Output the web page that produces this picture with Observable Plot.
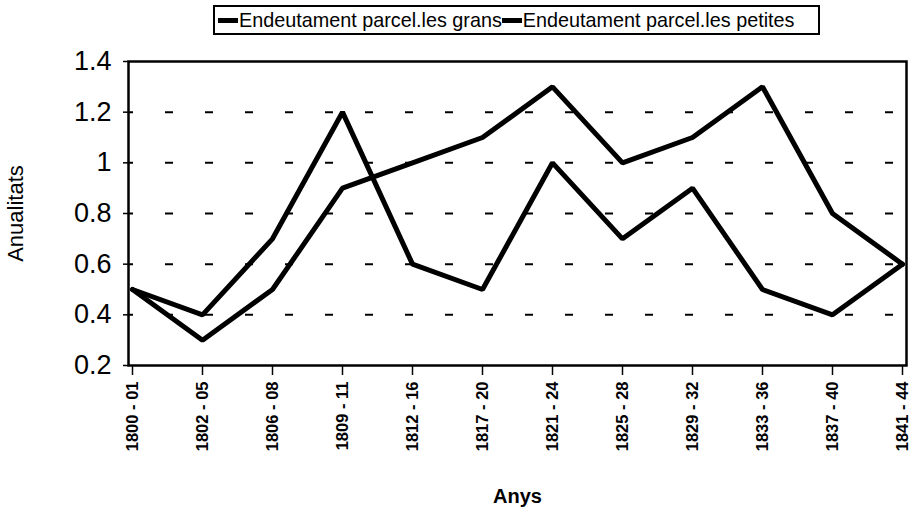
<!DOCTYPE html>
<html>
<head>
<meta charset="utf-8">
<script src="https://cdn.jsdelivr.net/npm/d3@7"></script>
<script src="https://cdn.jsdelivr.net/npm/@observablehq/plot@0.6"></script>
<style>
  body { margin: 0; background: #fff; font-family: "Liberation Sans", Arial, sans-serif; }
  #legend { position: relative; height: 42px; width: 921px; }
  #legend .box { position: absolute; left: 213px; top: 5px; width: 607px; height: 30px; border: 2px solid #000; box-sizing: border-box; display: flex; align-items: center; padding-left: 3px; font-size: 19.8px; color: #000; white-space: nowrap; overflow: hidden; }
  #legend .sw { display: inline-block; width: 20px; height: 5px; background: #000; margin-right: 1px; }
  svg { display: block; }
</style>
</head>
<body>
<div id="legend"></div>
<div id="chart"></div>
<script>
const periods = ["1800 - 01","1802 - 05","1806 - 08","1809 - 11","1812 - 16","1817 - 20","1821 - 24","1825 - 28","1829 - 32","1833 - 36","1837 - 40","1841 - 44"];
const seriesNames = ["Endeutament parcel.les grans", "Endeutament parcel.les petites"];
const grans = [0.5, 0.4, 0.7, 1.2, 0.6, 0.5, 1.0, 0.7, 0.9, 0.5, 0.4, 0.6];
const petites = [0.5, 0.3, 0.5, 0.9, 1.0, 1.1, 1.3, 1.0, 1.1, 1.3, 0.8, 0.6];
const yTicks = [0.2, 0.4, 0.6, 0.8, 1, 1.2, 1.4];
const gridTicks = [0.4, 0.6, 0.8, 1, 1.2];

const data = [];
periods.forEach((p, i) => {
  data.push({period: p, value: grans[i], series: seriesNames[0]});
  data.push({period: p, value: petites[i], series: seriesNames[1]});
});

// legend
const box = document.createElement("div");
box.className = "box";
seriesNames.forEach(name => {
  const sw = document.createElement("span"); sw.className = "sw";
  const t = document.createElement("span"); t.textContent = name;
  box.appendChild(sw); box.appendChild(t);
});
document.getElementById("legend").appendChild(box);

const plot = Plot.plot({
  width: 921,
  height: 477,
  marginLeft: 128,
  marginRight: 15,
  marginTop: 19,
  marginBottom: 154,
  style: {fontFamily: '"Liberation Sans", Arial, sans-serif', background: "#fff", color: "#000"},
  x: {type: "point", domain: periods, padding: 0, label: null},
  y: {domain: [0.2, 1.4], label: null},
  marks: [
    Plot.ruleY(gridTicks, {stroke: "#000", strokeWidth: 2, strokeDasharray: "8,32", strokeDashoffset: 3}),
    Plot.line(data, {x: "period", y: "value", z: "series", stroke: "#000", strokeWidth: 5, strokeLinejoin: "miter"}),
    Plot.frame({stroke: "#000", strokeWidth: 2.5}),
    Plot.axisY(yTicks, {tickSize: 5, tickPadding: 12, tickFormat: d => String(d), fontSize: 27, label: null, strokeWidth: 1.5}),
    Plot.axisX({tickSize: 10, tickPadding: 6, tickRotate: -90, fontSize: 16.5, fontWeight: "bold", label: null, strokeWidth: 1.5}),
    Plot.text(["Anys"], {frameAnchor: "bottom", dy: 137, fontSize: 20, fontWeight: "bold"}),
    Plot.text(["Anualitats"], {frameAnchor: "left", textAnchor: "middle", dx: -113, rotate: -90, fontSize: 22})
  ]
});
document.getElementById("chart").appendChild(plot);
</script>
</body>
</html>
